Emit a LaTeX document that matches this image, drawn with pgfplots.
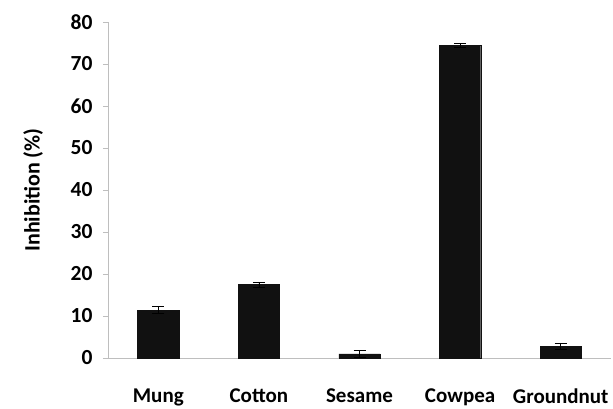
\documentclass[border=0pt]{standalone}
\usepackage{pgfplots}
\pgfplotsset{compat=1.18}
\usepackage{fontspec}
\setmainfont{Carlito}
\definecolor{axisgray}{RGB}{190,190,190}
\definecolor{barblack}{RGB}{17,17,17}
\begin{document}
\begin{tikzpicture}
\path[use as bounding box] (-108pt,-50pt) rectangle (505pt,358pt);
\begin{axis}[
  at={(0pt,0pt)}, anchor=south west,
  scale only axis, width=503pt, height=336pt,
  xmin=-0.5, xmax=4.5, ymin=0, ymax=80,
  axis x line=bottom, axis y line=left,
  axis line style={axisgray, line width=0.6pt, -},
  ytick={0,10,...,80},
  xtick={0,1,2,3,4},
  xticklabels={Mung,Cotton,Sesame,Cowpea,Groundnut},
  major x tick style={draw=none},
  extra x ticks={-0.5,0.5,1.5,2.5,3.5,4.5},
  extra x tick labels={},
  extra x tick style={tick style={axisgray, line width=0.6pt}, major tick length=8pt, tick align=outside},
  y tick style={axisgray, line width=0.6pt},
  tick align=outside, major tick length=5pt,
  /pgf/number format/assume math mode=true,
  yticklabel style={font=\fontsize{21.5}{25}\selectfont\bfseries, xshift=-7pt},
  xticklabel style={font=\fontsize{21}{25}\selectfont\bfseries, yshift=-22pt},
  ylabel={Inhibition (\%)},
  ylabel style={font=\fontsize{22}{26}\selectfont\bfseries, at={(axis description cs:-0.149,0.5)}, anchor=center},
  ybar, bar width=0.41,
  clip=false,
]
\addplot[fill=barblack, draw=barblack, bar shift=0pt,
  error bars/.cd, y dir=both, y explicit,
  error bar style={black, line width=0.6pt},
  error mark options={rotate=90, mark size=6pt, line width=0.6pt, black}]
  coordinates {
    (0,11.4) +- (0,0.8)
    (1,17.5) +- (0,0.6)
    (2,1.0) +- (0,0.8)
    (3,74.4) +- (0,0.5)
    (4,2.8) +- (0,0.8)
  };
\end{axis}
\end{tikzpicture}
\end{document}
